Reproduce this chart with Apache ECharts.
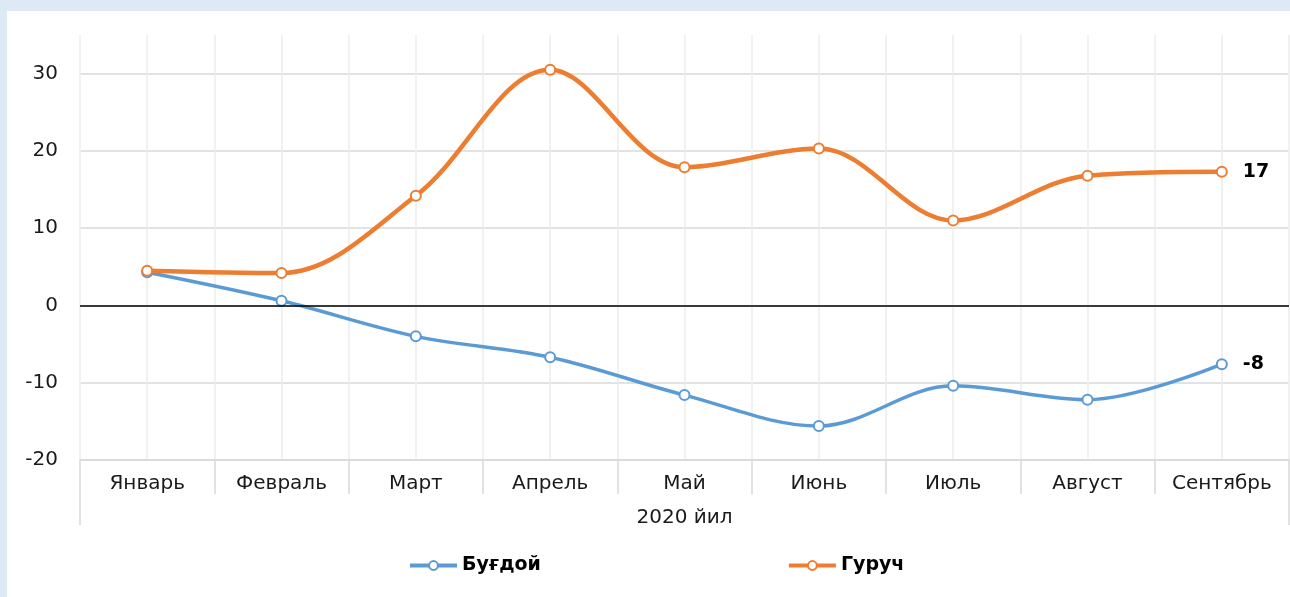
<!DOCTYPE html>
<html>
<head>
<meta charset="utf-8">
<script src="https://cdn.jsdelivr.net/npm/echarts@6/dist/echarts.min.js"></script>
<style>
html,body{margin:0;padding:0;background:#dde9f5;width:1290px;height:597px;overflow:hidden;}
#c{position:absolute;left:7px;top:11px;width:1283px;height:586px;background:#ffffff;}
</style>
</head>
<body>
<div id="c"></div>
<script>
const months = ['Январь','Февраль','Март','Апрель','Май','Июнь','Июль','Август','Сентябрь'];
const yearLabel = ['2020 йил'];
const wheat = [4.3, 0.6, -4.0, -6.7, -11.6, -15.6, -10.4, -12.2, -7.6];
const rice = [4.5, 4.2, 14.2, 30.5, 17.9, 20.3, 11.0, 16.8, 17.3];
const seriesNames = ['Буғдой', 'Гуруч'];
const yTicks = [-20, -10, 0, 10, 20, 30];

const FONT = 'DejaVu Sans, Liberation Sans, Arial, sans-serif';
function withLastLabel(arr) {
  return arr.map((v, i) => i === arr.length - 1
    ? { value: v, label: { show: true } }
    : v);
}
const halfCats = [];
for (let i = 0; i < months.length * 2; i++) halfCats.push('');

const chart = echarts.init(document.getElementById('c'), null, { renderer: 'canvas' });
chart.setOption({
  animation: false,
  backgroundColor: '#ffffff',
  textStyle: { fontFamily: FONT },
  grid: { left: 73, right: 1, top: 24, bottom: 137, containLabel: false },
  legend: {
    data: seriesNames,
    left: 396,
    top: 540,
    itemWidth: 47,
    itemHeight: 11,
    itemGap: 246,
    lineStyle: { width: 4 },
    textStyle: { fontFamily: FONT, fontSize: 19, fontWeight: 'bold', color: '#000000' }
  },
  xAxis: [
    {
      type: 'category',
      data: months,
      position: 'bottom',
      boundaryGap: true,
      axisLine: { show: true, onZero: false, lineStyle: { color: '#d9d9d9', width: 1.5 } },
      axisTick: { show: true, interval: 0, length: 34, lineStyle: { color: '#d9d9d9', width: 1.5 } },
      axisLabel: { interval: 0, margin: 14, fontFamily: FONT, fontSize: 20, color: '#1a1a1a' },
      splitLine: { show: false }
    },
    {
      type: 'category',
      data: yearLabel,
      position: 'bottom',
      boundaryGap: true,
      axisLine: { show: false, onZero: false },
      axisTick: { show: true, interval: 0, length: 65, lineStyle: { color: '#d9d9d9', width: 1.5 } },
      axisLabel: { interval: 0, margin: 48, fontFamily: FONT, fontSize: 20, color: '#1a1a1a' },
      splitLine: { show: false }
    },
    {
      type: 'category',
      data: halfCats,
      position: 'bottom',
      boundaryGap: true,
      axisLine: { show: false, onZero: false },
      axisTick: { show: false },
      axisLabel: { show: false },
      splitLine: { show: true, interval: 0, lineStyle: { color: '#ececec', width: 1.5 } }
    }
  ],
  yAxis: {
    type: 'value',
    min: -20,
    max: 35,
    interval: 5,
    axisLine: { show: false },
    axisTick: { show: false },
    axisLabel: {
      margin: 22,
      fontFamily: FONT,
      fontSize: 20,
      color: '#1a1a1a',
      formatter: v => (yTicks.indexOf(v) >= 0 ? String(v) : '')
    },
    splitLine: { show: true, lineStyle: { color: ['#d9d9d9', 'transparent'], width: 1.5 } }
  },
  series: [
    {
      name: seriesNames[0],
      type: 'line',
      xAxisIndex: 0,
      data: withLastLabel(wheat),
      smooth: 0.35,
      symbol: 'emptyCircle',
      symbolSize: 10,
      lineStyle: { color: '#5b9bd5', width: 3.5 },
      itemStyle: { color: '#5b9bd5', borderWidth: 2.5 },
      label: { show: false, position: 'right', distance: 15, fontFamily: FONT, fontSize: 19, fontWeight: 'bold', color: '#000000',
        formatter: p => String(Math.round(p.value)) },
      markLine: {
        silent: true,
        symbol: ['none', 'none'],
        label: { show: false },
        lineStyle: { color: '#000000', width: 1.5, type: 'solid' },
        data: [{ yAxis: 0 }]
      },
      z: 3
    },
    {
      name: seriesNames[1],
      type: 'line',
      xAxisIndex: 0,
      data: withLastLabel(rice),
      smooth: 0.35,
      symbol: 'emptyCircle',
      symbolSize: 10,
      lineStyle: { color: '#ed7d31', width: 4.5 },
      itemStyle: { color: '#ed7d31', borderWidth: 2.5 },
      label: { show: false, position: 'right', distance: 15, fontFamily: FONT, fontSize: 19, fontWeight: 'bold', color: '#000000',
        formatter: p => String(Math.round(p.value)) },
      z: 4
    }
  ]
});
</script>
</body>
</html>
